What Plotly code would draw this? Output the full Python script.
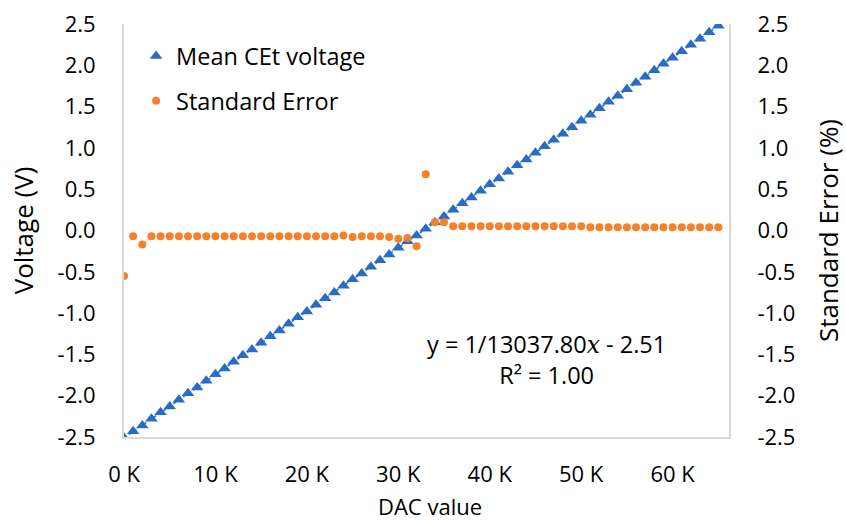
import numpy as np
import plotly.graph_objects as go

# ---- data ----
dac_values = [0, 1000, 2000, 3000, 4000, 5000, 6000, 7000, 8000, 9000,
              10000, 11000, 12000, 13000, 14000, 15000, 16000, 17000, 18000, 19000,
              20000, 21000, 22000, 23000, 24000, 25000, 26000, 27000, 28000, 29000,
              30000, 31000, 32000, 33000, 34000, 35000, 36000, 37000, 38000, 39000,
              40000, 41000, 42000, 43000, 44000, 45000, 46000, 47000, 48000, 49000,
              50000, 51000, 52000, 53000, 54000, 55000, 56000, 57000, 58000, 59000,
              60000, 61000, 62000, 63000, 64000, 65000]

mean_voltage = [-2.51, -2.43, -2.36, -2.28, -2.20, -2.13, -2.05, -1.97, -1.90, -1.82,
                -1.74, -1.67, -1.59, -1.51, -1.44, -1.36, -1.28, -1.21, -1.13, -1.05,
                -0.98, -0.90, -0.82, -0.75, -0.67, -0.59, -0.52, -0.44, -0.36, -0.29,
                -0.21, -0.13, -0.06, 0.02, 0.10, 0.17, 0.25, 0.33, 0.40, 0.48,
                0.56, 0.63, 0.71, 0.79, 0.86, 0.94, 1.02, 1.10, 1.17, 1.25,
                1.33, 1.40, 1.48, 1.56, 1.63, 1.71, 1.79, 1.86, 1.94, 2.02,
                2.09, 2.17, 2.25, 2.32, 2.40, 2.48]

standard_error = [-0.55, -0.07, -0.17, -0.07, -0.07, -0.07, -0.07, -0.07, -0.07, -0.07,
                  -0.07, -0.07, -0.07, -0.07, -0.07, -0.07, -0.07, -0.07, -0.07, -0.07,
                  -0.07, -0.07, -0.07, -0.07, -0.06, -0.08, -0.07, -0.07, -0.07, -0.08,
                  -0.10, -0.09, -0.19, 0.68, 0.10, 0.10, 0.05, 0.05, 0.05, 0.05,
                  0.05, 0.05, 0.05, 0.05, 0.05, 0.05, 0.05, 0.05, 0.05, 0.05,
                  0.05, 0.04, 0.04, 0.04, 0.04, 0.04, 0.04, 0.04, 0.04, 0.04,
                  0.04, 0.04, 0.04, 0.04, 0.04, 0.04]

x_tick_vals = [0, 10000, 20000, 30000, 40000, 50000, 60000]
x_tick_text = ["0 K", "10 K", "20 K", "30 K", "40 K", "50 K", "60 K"]
y_tick_vals = [-2.5, -2.0, -1.5, -1.0, -0.5, 0.0, 0.5, 1.0, 1.5, 2.0, 2.5]
y_tick_text = ["-2.5", "-2.0", "-1.5", "-1.0", "-0.5", "0.0", "0.5", "1.0", "1.5", "2.0", "2.5"]

BLUE = "#2A6BC8"
ORANGE = "#F5822A"
AXIS = "#D9D9D9"
FONT = "Open Sans"
FS = 22
FS_TEXT = 23.5

# linear trendline fitted on the data
slope, intercept = np.polyfit(dac_values, mean_voltage, 1)
trend_x = [dac_values[0], dac_values[-1]]
trend_y = [slope * v + intercept for v in trend_x]

fig = go.Figure()
fig.add_trace(go.Scatter(x=trend_x, y=trend_y, mode="lines",
                         line=dict(color=BLUE, width=1.5, dash="dot"),
                         showlegend=False, hoverinfo="skip"))
fig.add_trace(go.Scatter(x=dac_values, y=mean_voltage, mode="markers",
                         name="Mean CEt voltage", legendgroup="a",
                         marker=dict(symbol="triangle-up", size=11, color=BLUE)))
fig.add_trace(go.Scatter(x=dac_values, y=standard_error, mode="markers",
                         name="Standard Error", legendgroup="b", yaxis="y2",
                         marker=dict(symbol="circle", size=8, color=ORANGE)))

fig.update_layout(
    width=846, height=521,
    margin=dict(l=124, r=117, t=24, b=84, autoexpand=False),
    paper_bgcolor="white", plot_bgcolor="white",
    font=dict(family=FONT, size=FS, color="#000000"),
    showlegend=True,
    legend=dict(x=0.02, y=0.975, xanchor="left", yanchor="top",
                bgcolor="rgba(0,0,0,0)", font=dict(size=FS_TEXT),
                tracegroupgap=11, itemwidth=30),
    xaxis=dict(range=[0, 66170], tickvals=x_tick_vals, ticktext=x_tick_text,
               automargin=False,
               showgrid=False, zeroline=False, showline=True, linecolor=AXIS,
               linewidth=2, ticks="outside", ticklen=17, tickcolor="rgba(0,0,0,0)"),
    yaxis=dict(range=[-2.5, 2.5], tickvals=y_tick_vals, ticktext=y_tick_text,
               automargin=False,
               showgrid=False, zeroline=False, showline=True, linecolor=AXIS,
               linewidth=2, ticks="outside", ticklen=22, tickcolor="rgba(0,0,0,0)",
               title=dict(text="Voltage (V)", standoff=16)),
    yaxis2=dict(range=[-2.5, 2.5], tickvals=y_tick_vals, ticktext=y_tick_text,
                overlaying="y", side="right", automargin=False,
                showgrid=False, zeroline=False, showline=True, linecolor=AXIS,
                linewidth=2, ticks="outside", ticklen=22, tickcolor="rgba(0,0,0,0)",
                title=dict(text="Standard Error (%)", standoff=26)),
    annotations=[
        dict(xref="paper", yref="paper", x=0.698, y=0.187, xanchor="center", yanchor="middle",
             text="y = 1/13037.80<span style='font-family:DejaVu Serif'><i>x</i></span> - 2.51<br>R² = 1.00",
             showarrow=False, align="center", font=dict(size=FS_TEXT, family=FONT)),
        dict(xref="paper", yref="paper", x=0.506, y=-0.167, xanchor="center", yanchor="middle",
             text="DAC value", showarrow=False, font=dict(size=FS, family=FONT)),
    ],
)

fig.write_html("out.html")
